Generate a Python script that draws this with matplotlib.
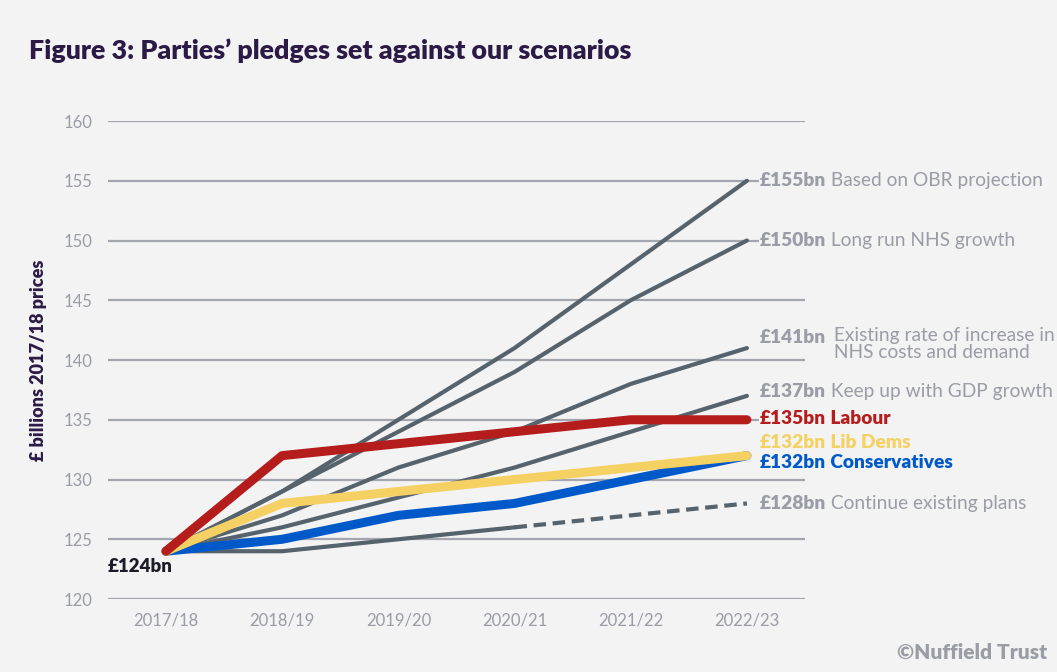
import numpy as np
import matplotlib.pyplot as plt

plt.rcParams['font.family'] = ['Lato', 'DejaVu Sans']

years = ['2017/18', '2018/19', '2019/20', '2020/21', '2021/22', '2022/23']

obr = [124, 129, 135, 141, 148, 155]
long_run = [124, 129, 134, 139, 145, 150]
existing_rate = [124, 127, 131, 134, 138, 141]
gdp = [124, 126, 128.5, 131, 134, 137]
continue_plans = [124, 124, 125, 126, 127, 128]

labour = [124, 132, 133, 134, 135, 135]
lib_dems = [124, 128, 129, 130, 131, 132]
conservatives = [124, 125, 127, 128, 130, 132]

GREY_LINE = '#56626c'
GRID = '#a3a6ae'
LABEL_GREY = '#9a9ca6'
RED = '#b51c1c'
YELLOW = '#f5d164'
BLUE = '#0059c9'
PURPLE = '#2a1a45'
BG = '#f3f3f3'

fig = plt.figure(figsize=(10.57, 6.72), dpi=100, facecolor=BG)
ax = fig.add_axes([0.102, 0.1086, 0.6596, 0.7113])
ax.set_facecolor(BG)

x = np.arange(len(years))

# scenario lines
for s in [obr, long_run, existing_rate, gdp]:
    ax.plot(x, s, color=GREY_LINE, lw=3, solid_capstyle='round', zorder=3)
ax.plot(x[:4], continue_plans[:4], color=GREY_LINE, lw=3, solid_capstyle='round', zorder=3)
ax.plot(x[3:], continue_plans[3:], color=GREY_LINE, lw=3, ls=(0, (3, 1.6)), zorder=3)

# party pledges
ax.plot(x, conservatives, color=BLUE, lw=6.5, solid_capstyle='round', zorder=4)
ax.plot(x, lib_dems, color=YELLOW, lw=6.5, solid_capstyle='round', zorder=5)
ax.plot(x, labour, color=RED, lw=6.5, solid_capstyle='round', zorder=6)

ax.set_xlim(-0.5, 5.5)
ax.set_ylim(120, 160)
ax.set_yticks(np.arange(120, 161, 5))
ax.set_xticks(x)
ax.set_xticklabels(years)
ax.tick_params(length=0, labelsize=12, colors=LABEL_GREY, pad=10)
ax.tick_params(axis='y', pad=11)
ax.grid(axis='y', color=GRID, lw=1.6)
ax.set_axisbelow(True)
for sp in ax.spines.values():
    sp.set_visible(False)
ax.set_ylabel('£ billions 2017/18 prices', fontsize=13, fontweight='heavy',
              color=PURPLE, labelpad=12)

# end labels
labels = [
    (155, '£155bn', ' Based on OBR projection', LABEL_GREY, 'normal'),
    (150, '£150bn', ' Long run NHS growth', LABEL_GREY, 'normal'),
    (141.9, '£141bn', ' Existing rate of increase in\n NHS costs and demand', LABEL_GREY, 'normal'),
    (137.4, '£137bn', ' Keep up with GDP growth', LABEL_GREY, 'normal'),
    (135.1, '£135bn', ' Labour', RED, 'heavy'),
    (133.1, '£132bn', ' Lib Dems', YELLOW, 'heavy'),
    (131.4, '£132bn', ' Conservatives', BLUE, 'heavy'),
    (128.0, '£128bn', ' Continue existing plans', LABEL_GREY, 'normal'),
]
for yv, amount, desc, col, w in labels:
    t = ax.text(5.11, yv, amount, fontsize=13.8, fontweight='heavy', color=col,
                va='center', ha='left', clip_on=False, zorder=7,
                bbox=dict(facecolor=BG, edgecolor='none', pad=0.5))
    if '\n' in desc:
        ax.annotate(desc, xy=(1, 1), xycoords=t, va='top', ha='left',
                    fontsize=13.8, fontweight=w, color=col, linespacing=1.05,
                    xytext=(2, 1.5), textcoords='offset points')
    else:
        ax.annotate(desc, xy=(1, 0), xycoords=t, va='bottom', ha='left',
                    fontsize=13.8, fontweight=w, color=col)

ax.text(-0.5, 122.7, '£124bn', fontsize=13.5, fontweight='heavy', color='#1c1c28',
        va='center', ha='left')

fig.text(0.027, 0.925, 'Figure 3: Parties’ pledges set against our scenarios',
         fontsize=19.3, fontweight='heavy', color=PURPLE, va='center', ha='left')
fig.text(0.991, 0.03, '©Nuffield Trust', fontsize=15, fontweight='heavy',
         color=LABEL_GREY, ha='right', va='center')

fig.savefig('out.png', dpi=100, facecolor=BG)
